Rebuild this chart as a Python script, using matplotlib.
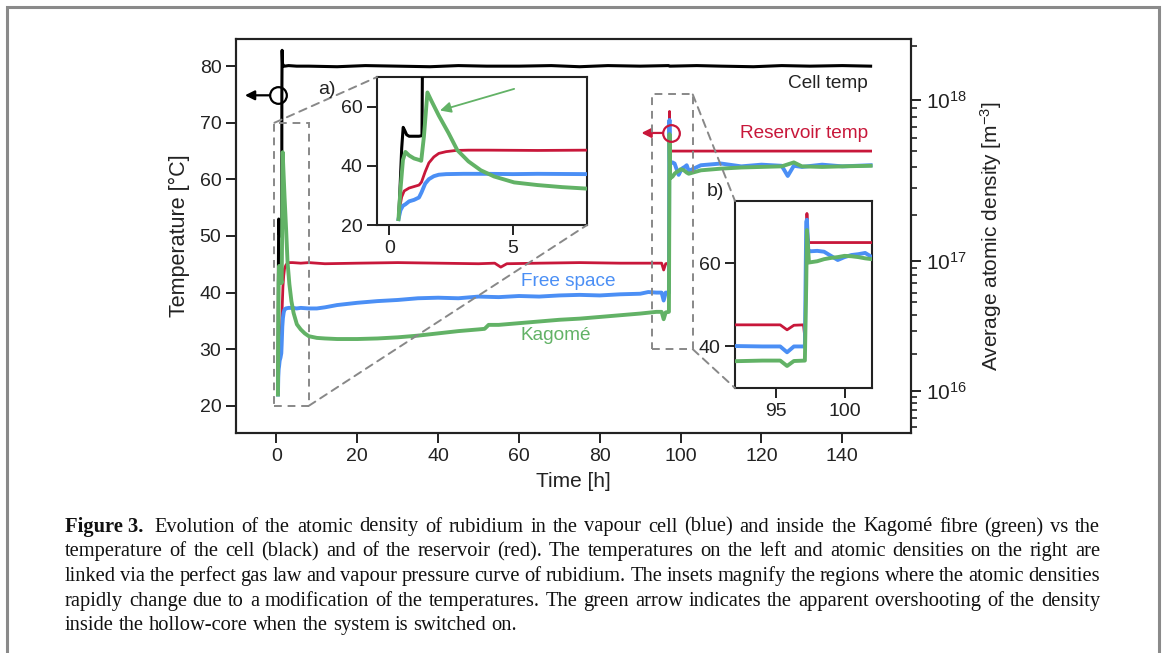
import numpy as np
import matplotlib
matplotlib.use("Agg")
import matplotlib.pyplot as plt
from matplotlib.patches import Rectangle, ConnectionPatch

plt.rcParams['font.family'] = ['Liberation Sans', 'DejaVu Sans']
plt.rcParams['mathtext.default'] = 'regular'

RED = '#c8173a'
BLUE = '#4b8ff5'
GREEN = '#62b266'

# cell temperature (black)
t_cell = [0.37, 0.42, 0.5, 0.56, 0.62, 0.7, 0.8, 1.0, 1.2, 1.32, 1.34, 1.4, 1.5, 1.7, 2, 3, 5, 8,
          15, 22, 30, 38, 45, 52, 60, 68, 75, 82, 90, 97, 97.3, 104, 110, 118, 125, 132, 140, 147]
v_cell = [22, 30, 46, 53, 52, 50.5, 50, 50, 50, 50.2, 75, 82.8, 80.5, 80, 80, 80.1, 80, 80,
          79.9, 80.1, 80, 79.9, 80.1, 80, 80, 80.1, 79.9, 80.1, 80, 80.1, 80, 80.1, 80, 79.9, 80.1, 80, 80.1, 80]

# reservoir temperature (red)
t_res = [0.37, 0.42, 0.5, 0.6, 0.8, 1.0, 1.2, 1.3, 1.45, 1.6, 1.8, 2.0, 2.3, 2.7, 3.2, 4, 6, 8, 12,
         20, 30, 40, 50, 54, 55.5, 57, 65, 75, 85, 92, 94, 95.3, 95.8, 96.3, 97.0, 97.12, 97.2, 97.25,
         97.32, 97.4, 100, 110, 120, 130, 140, 147]
v_res = [22, 26, 29.5, 31.5, 32.5, 33, 33.5, 34.5, 38, 41, 43, 44.2, 44.8, 45.2, 45.3, 45.3, 45.2, 45.3, 45.1,
         45.2, 45.3, 45.2, 45.1, 45.2, 44.5, 45.1, 45.2, 45.3, 45.2, 45.2, 45.2, 45.2, 44.0, 45.1, 45.2, 41.5, 60, 72,
         66, 65, 65, 65, 65, 65, 65, 65]

# free space density (blue)
t_free = [0.37, 0.45, 0.55, 0.65, 0.8, 1.0, 1.2, 1.3, 1.45, 1.6, 1.8, 2.0, 2.3, 3, 4, 5, 6, 8, 10, 12,
          15, 20, 25, 30, 35, 40, 45, 50, 55, 60, 65, 70, 75, 80, 85, 90, 92, 94, 95.3, 95.8, 96.3, 97.1,
          97.2, 97.25, 97.35, 97.5, 98, 98.5, 99, 99.5, 100, 100.5, 101, 101.5, 102, 105, 110, 115, 120,
          125, 126.5, 128, 130, 135, 140, 147]
v_free = [22, 25, 26.5, 27, 28, 28.5, 29.3, 31, 34, 35.5, 36.5, 37, 37.2, 37.3, 37.3, 37.2, 37.3, 37.2, 37.2, 37.4,
          37.8, 38.2, 38.5, 38.7, 39.0, 39.1, 39.0, 39.3, 39.2, 39.4, 39.3, 39.5, 39.6, 39.5, 39.7, 39.8, 40.1, 40.0, 40.0, 38.6, 40.0, 40.0,
          70, 70.5, 63, 62.9, 63.0, 62.8, 61.8, 60.8, 61.5, 62.0, 62.2, 62.5, 61.5, 62.5, 62.8, 62.3, 62.6,
          62.4, 60.6, 62.4, 62.2, 62.6, 62.3, 62.5]

# Kagome fibre density (green)
t_kag = [0.37, 0.45, 0.55, 0.65, 0.8, 1.0, 1.2, 1.29, 1.4, 1.54, 1.7, 2.0, 2.4, 2.75, 3.2, 3.7, 4.24, 5.05, 6, 7,
         8, 10, 12, 15, 20, 25, 30, 35, 40, 45, 50, 51.5, 52.5, 55, 60, 65, 70, 75, 80, 85, 90, 94, 95.3, 95.8,
         96.3, 97.1, 97.2, 97.25, 97.4, 98, 98.5, 99, 99.5, 100, 100.5, 101, 101.5, 102, 105, 110, 115, 120,
         125, 128, 130, 135, 140, 147]
v_kag = [22, 32, 42, 44.7, 43.5, 42.5, 42, 41.7, 50, 64.8, 62, 57, 51, 45.3, 41.5, 38.5, 36.4, 34.4, 33.5, 32.8,
         32.3, 32.0, 31.9, 31.8, 31.8, 31.9, 32.1, 32.4, 32.8, 33.2, 33.5, 33.6, 34.3, 34.3, 34.6, 34.9, 35.2, 35.4, 35.7, 36.0, 36.3, 36.6, 36.6, 35.3,
         36.5, 36.6, 55, 68, 60.2, 60.5, 61.0, 61.3, 61.5, 61.8, 61.7, 61.5, 61.2, 61.0, 61.6, 61.9, 62.1, 62.2,
         62.3, 63.0, 62.3, 62.2, 62.3, 62.4]

density_major = [1e16, 1e17, 1e18]
density_minor = [k * 10.0 ** d for d in (15, 16, 17, 18) for k in range(2, 10)]

caption_head = 'Figure 3.'
caption_lines = [
    'Evolution of the atomic density of rubidium in the vapour cell (blue) and inside the Kagomé fibre '
    '(green) vs the',
    'temperature of the cell (black) and of the reservoir (red). The temperatures on the left and atomic '
    'densities on the right are',
    'linked via the perfect gas law and vapour pressure curve of rubidium. The insets magnify the regions '
    'where the atomic densities',
    'rapidly change due to a modification of the temperatures. The green arrow indicates the apparent '
    'overshooting of the density',
    'inside the hollow-core when the system is switched on.',
]


def temp_to_density(t):
    # Rb vapour pressure curve (solid / liquid) + ideal gas law
    t = np.asarray(t, dtype=float)
    tk = t + 273.15
    logp = np.where(t < 39.3, 4.857 - 4215.0 / tk, 4.312 - 4040.0 / tk)
    p = 101325.0 * 10 ** logp
    return p / (1.380649e-23 * tk)


_grid = np.linspace(-20, 150, 3401)
_logn = np.log10(temp_to_density(_grid))


def density_to_temp(n):
    return np.interp(np.log10(n), _logn, _grid)


def draw_series(a, lw=1.0):
    a.plot(t_cell, v_cell, color='black', lw=2.2 * lw, zorder=3)
    a.plot(t_res, v_res, color=RED, lw=2.0 * lw, zorder=4)
    a.plot(t_free, v_free, color=BLUE, lw=2.8 * lw, zorder=5)
    a.plot(t_kag, v_kag, color=GREEN, lw=2.8 * lw, zorder=6)


def style_axes(a, size=14):
    for s in a.spines.values():
        s.set_linewidth(1.5)
        s.set_color('#222222')
    a.tick_params(labelsize=size, length=7, width=1.4, color='#222222', labelcolor='#222222')


def justify(fig, text, x0, x1, y, justified=True, **kw):
    # place words one by one so the line spans x0..x1 (pixels)
    W, H = fig.bbox.width, fig.bbox.height
    r = fig.canvas.get_renderer()
    words = text.split(' ')
    arts = [fig.text(0, 1 - y / H, w, va='center', ha='left', **kw) for w in words]
    widths = [a.get_window_extent(r).width for a in arts]
    probe = fig.text(0, 0, 'a a', **kw)
    probe2 = fig.text(0, 0, 'aa', **kw)
    sp = probe.get_window_extent(r).width - probe2.get_window_extent(r).width
    probe.remove()
    probe2.remove()
    gap = (x1 - x0 - sum(widths)) / (len(words) - 1) if justified else sp
    x = x0
    for a, w in zip(arts, widths):
        a.set_x(x / W)
        x += w + gap


fig = plt.figure(figsize=(11.65, 6.53), dpi=100)

ax = fig.add_axes([0.2026, 0.3369, 0.5794, 0.6034])
draw_series(ax)
ax.set_xlim(-10, 157)
ax.set_ylim(15.2, 84.8)
ax.set_xticks(np.arange(0, 141, 20))
ax.set_yticks(np.arange(20, 81, 10))
ax.set_xlabel('Time [h]', fontsize=15, color='#222222', labelpad=5)
ax.set_ylabel('Temperature [°C]', fontsize=15.5, color='#222222', labelpad=7)
style_axes(ax)

# right axis: atomic density, linked to temperature
ax2 = ax.twinx()
ax2.set_ylim(ax.get_ylim())
lo, hi = temp_to_density(ax.get_ylim())
minor = [d for d in density_minor if lo <= d <= hi]
ax2.set_yticks(density_to_temp(density_major))
ax2.set_yticklabels([r'$10^{%d}$' % int(np.log10(d)) for d in density_major])
ax2.set_yticks(density_to_temp(minor), minor=True)
ax2.set_ylabel('Average atomic density [m$^{-3}$]', fontsize=15, color='#222222', labelpad=8)
style_axes(ax2, size=15)
ax2.tick_params(which='minor', length=4, width=1.2, color='#222222')

# marker circles and arrows pointing to the axis
ax.plot([0.4], [74.85], 'o', ms=12, mfc='none', mec='black', mew=1.6, zorder=8)
ax.annotate('', xy=(-7.8, 74.85), xytext=(-1.6, 74.85),
            arrowprops=dict(arrowstyle='-|>', color='black', lw=1.6, mutation_scale=14, shrinkA=0, shrinkB=0))
ax.plot([97.7], [68.2], 'o', ms=12, mfc='none', mec=RED, mew=1.6, zorder=8)
ax.annotate('', xy=(90.3, 68.2), xytext=(95.6, 68.2),
            arrowprops=dict(arrowstyle='-|>', color=RED, lw=1.6, mutation_scale=14, shrinkA=0, shrinkB=0))

ax.text(146.4, 77.0, 'Cell temp', ha='right', va='center', fontsize=13.7, color='#222222')
ax.text(146.4, 68.1, 'Reservoir temp', ha='right', va='center', fontsize=13.7, color=RED)
ax.text(72.2, 42.0, 'Free space', ha='center', va='center', fontsize=13.7, color=BLUE)
ax.text(69.2, 32.4, 'Kagomé', ha='center', va='center', fontsize=13.7, color=GREEN)

# inset a)
axa = fig.add_axes([0.3236, 0.6554, 0.1803, 0.2266])
draw_series(axa)
axa.set_xlim(-0.5, 8)
axa.set_ylim(20, 70)
axa.set_xticks([0, 5])
axa.set_yticks([20, 40, 60])
style_axes(axa)
axa.annotate('', xy=(2.05, 58.7), xytext=(5.05, 66),
             arrowprops=dict(arrowstyle='-|>', color=GREEN, lw=1.3, mutation_scale=16, shrinkA=0, shrinkB=0))
fig.text(327 / 1165, 1 - 90 / 653, 'a)', fontsize=14, ha='center', va='center', color='#222222')

dash = dict(color='#888888', lw=1.4, ls=(0, (4, 3)))
ax.add_patch(Rectangle((-0.5, 20), 8.5, 50, fill=False, zorder=7, **dash))
for xy in [(-0.5, 70), (8, 20)]:
    fig.add_artist(ConnectionPatch(xyA=xy, coordsA=ax.transData, xyB=xy, coordsB=axa.transData, **dash))

# inset b)
axb = fig.add_axes([0.6309, 0.4058, 0.1176, 0.2864])
draw_series(axb)
axb.set_xlim(92, 102)
axb.set_ylim(30, 75)
axb.set_xticks([95, 100])
axb.set_yticks([40, 60])
style_axes(axb)
fig.text(715 / 1165, 1 - 192 / 653, 'b)', fontsize=14, ha='center', va='center', color='#222222')

ax.add_patch(Rectangle((93, 30), 10, 45, fill=False, zorder=7, **dash))
for xyA, xyB in [((103, 75), (92, 75)), ((103, 30), (92, 30))]:
    fig.add_artist(ConnectionPatch(xyA=xyA, coordsA=ax.transData, xyB=xyB, coordsB=axb.transData, **dash))

# caption, justified like the journal text
cap = dict(family=['Liberation Serif', 'DejaVu Serif'], fontsize=14.8, color='#111111')
head = fig.text(65 / 1165, 1 - 527 / 653, caption_head, fontweight='bold', va='center', ha='left', **cap)
head_w = head.get_window_extent(fig.canvas.get_renderer()).width
for i, line in enumerate(caption_lines):
    x0 = 65 + head_w + 11 if i == 0 else 65
    justify(fig, line, x0, 1100, 527 + 24.7 * i, justified=(i < len(caption_lines) - 1), **cap)

# outer frame
fig.add_artist(Rectangle((7 / 1165, -0.1), 1152 / 1165, 1.1 - 7 / 653, transform=fig.transFigure,
                         fill=False, lw=2.2, edgecolor='#8a8a8a', clip_on=False))

fig.savefig('out.png', dpi=100)
